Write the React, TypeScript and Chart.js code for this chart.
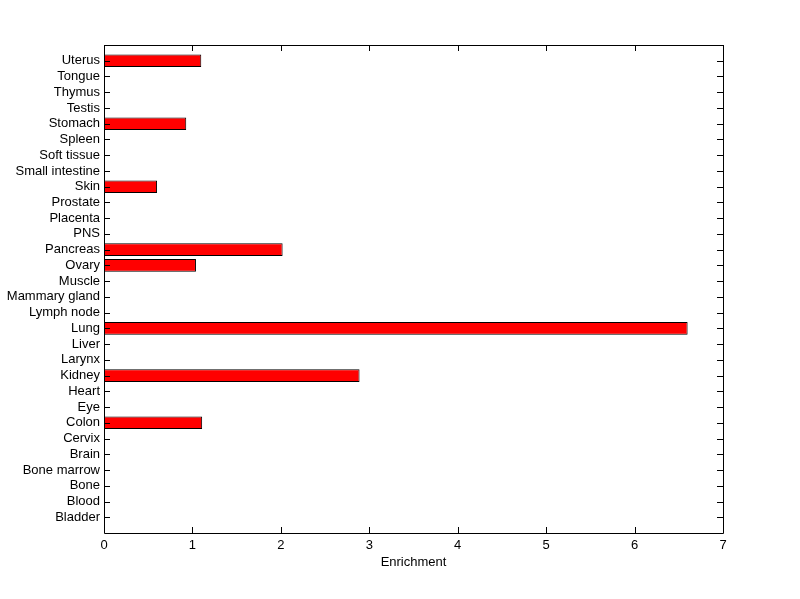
import React, { useEffect, useRef } from "react";
import { Chart, registerables } from "chart.js";

Chart.register(...registerables);

const categories = [
  "Bladder", "Blood", "Bone", "Bone marrow", "Brain", "Cervix", "Colon", "Eye",
  "Heart", "Kidney", "Larynx", "Liver", "Lung", "Lymph node", "Mammary gland",
  "Muscle", "Ovary", "Pancreas", "PNS", "Placenta", "Prostate", "Skin",
  "Small intestine", "Soft tissue", "Spleen", "Stomach", "Testis", "Thymus",
  "Tongue", "Uterus",
];
const enrichment = [
  0, 0, 0, 0, 0, 0, 1.11, 0,
  0, 2.89, 0, 0, 6.6, 0, 0,
  0, 1.04, 2.02, 0, 0, 0, 0.6,
  0, 0, 0, 0.93, 0, 0,
  0, 1.1,
];
const xTicks = [0, 1, 2, 3, 4, 5, 6, 7];
const xTitle = "Enrichment";

const FONT = "'Liberation Sans', Arial, Helvetica, sans-serif";

export default function App() {
  const ref = useRef<HTMLCanvasElement | null>(null);
  useEffect(() => {
    document.body.style.margin = "0";
    const canvas = ref.current!;
    const boxPlugin = {
      id: "matlabBox",
      afterDraw(chart: any) {
        const { ctx, chartArea } = chart;
        const xs = chart.scales.x;
        const ys = chart.scales.y;
        const { left, right, top, bottom } = chartArea;
        ctx.save();
        ctx.strokeStyle = "#000";
        ctx.lineWidth = 1;
        ctx.beginPath();
        ctx.rect(Math.round(left) + 0.5, Math.round(top) + 0.5, Math.round(right - left), Math.round(bottom - top));
        const tl = 6;
        xs.ticks.forEach((t: any) => {
          const px = Math.round(xs.getPixelForValue(t.value)) + 0.5;
          ctx.moveTo(px, bottom);
          ctx.lineTo(px, bottom - tl);
          ctx.moveTo(px, top);
          ctx.lineTo(px, top + tl);
        });
        ys.ticks.forEach((t: any) => {
          const py = Math.round(ys.getPixelForValue(t.value)) + 0.5;
          ctx.moveTo(left, py);
          ctx.lineTo(left + tl, py);
          ctx.moveTo(right, py);
          ctx.lineTo(right - tl, py);
        });
        ctx.stroke();
        ctx.restore();
      },
    };
    const chart = new Chart(canvas, {
      type: "bar",
      data: {
        datasets: [
          {
            data: enrichment.map((v, i) => ({ x: v, y: i + 1 })),
            backgroundColor: "#ff0000",
            borderColor: "#000000",
            borderWidth: 1,
            borderSkipped: false,
            barPercentage: 0.8,
            categoryPercentage: 1,
          },
        ],
      },
      options: {
        indexAxis: "y",
        animation: false,
        responsive: false,
        maintainAspectRatio: false,
        layout: { padding: { top: 45, right: 77, left: 0, bottom: 0 } },
        plugins: { legend: { display: false }, tooltip: { enabled: false } },
        scales: {
          x: {
            type: "linear",
            min: 0,
            max: 7,
            offset: false,
            afterBuildTicks: (s: any) => {
              s.ticks = xTicks.map((v) => ({ value: v }));
            },
            afterFit: (s: any) => {
              s.height = 66;
            },
            grid: { display: false, drawTicks: false, offset: false },
            border: { display: false },
            ticks: {
              padding: 5,
              color: "#000",
              font: { family: FONT, size: 13 },
              callback: (v: any) => String(v),
            },
            title: {
              display: true,
              text: xTitle,
              color: "#000",
              font: { family: FONT, size: 13 },
              padding: { top: 1, bottom: 29 },
            },
          },
          y: {
            type: "linear",
            min: 0,
            max: 31,
            offset: false,
            afterBuildTicks: (s: any) => {
              s.ticks = categories.map((_, i) => ({ value: i + 1 }));
            },
            afterFit: (s: any) => {
              s.width = 104;
            },
            grid: { display: false, drawTicks: false, offset: false },
            border: { display: false },
            ticks: {
              padding: 4,
              color: "#000",
              autoSkip: false,
              font: { family: FONT, size: 13 },
              callback: (v: any) => categories[Math.round(v) - 1] ?? "",
            },
          },
        },
      },
      plugins: [boxPlugin],
    } as any);
    return () => chart.destroy();
  }, []);
  return (
    <div style={{ width: 800, height: 599, background: "#fff" }}>
      <canvas ref={ref} width={800} height={599} style={{ display: "block" }} />
    </div>
  );
}
